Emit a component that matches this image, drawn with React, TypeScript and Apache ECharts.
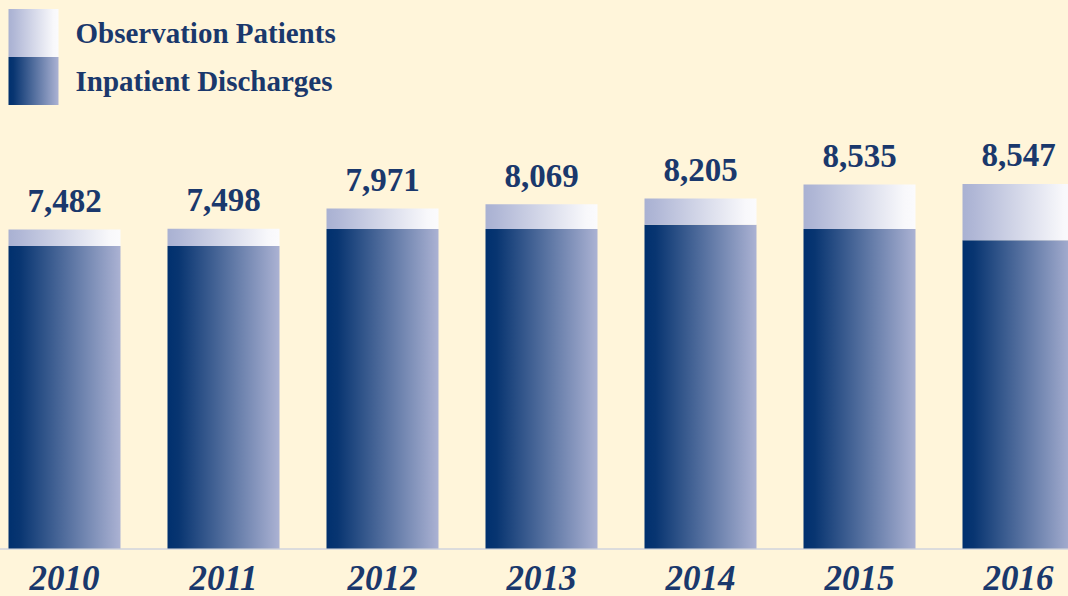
import { useEffect, useRef } from "react";
import * as echarts from "echarts";

const years = ["2010", "2011", "2012", "2013", "2014", "2015", "2016"];
const inpatient = [7090, 7090, 7490, 7490, 7590, 7490, 7230];
const observation = [392, 408, 481, 579, 615, 1045, 1317];
const totals = [7482, 7498, 7971, 8069, 8205, 8535, 8547];

const NAVY = "#1a386c";
const FONT = "'Liberation Serif', 'DejaVu Serif', serif";
const SHIFT = 15.5;

export default function App() {
  const ref = useRef<HTMLDivElement>(null);

  useEffect(() => {
    if (!ref.current) return;
    const chart = echarts.init(ref.current, null, { renderer: "svg" });
    const inpGrad = new echarts.graphic.LinearGradient(0, 0, 1, 0, [
      { offset: 0, color: "#00306e" },
      { offset: 0.1, color: "#083571" },
      { offset: 1, color: "#abb2d3" },
    ]);
    const obsGrad = new echarts.graphic.LinearGradient(0, 0, 1, 0, [
      { offset: 0, color: "#a9b1d2" },
      { offset: 0.1, color: "#b0b7d6" },
      { offset: 0.9, color: "#f8f8fb" },
      { offset: 1, color: "#fbfbfd" },
    ]);
    chart.setOption({
      animation: false,
      backgroundColor: "#fff5da",
      legend: {
        orient: "vertical",
        left: 8 + SHIFT,
        top: 9,
        padding: 0,
        itemWidth: 50,
        itemHeight: 48,
        itemGap: 0,
        icon: "rect",
        selectedMode: false,
        data: ["Observation Patients", "Inpatient Discharges"],
        textStyle: {
          color: NAVY,
          fontSize: 29,
          fontWeight: "bold",
          fontFamily: FONT,
          padding: [9, 0, 0, 12],
        },
      },
      grid: { left: 0, right: 0, top: 122, bottom: 47.5 },
      xAxis: {
        type: "category",
        data: years,
        axisLine: { show: true, lineStyle: { color: "#dcdcdc", width: 2 } },
        axisTick: { show: false },
        axisLabel: {
          color: NAVY,
          fontSize: 35,
          fontWeight: "bold",
          fontStyle: "italic",
          fontFamily: FONT,
          margin: 12,
        },
      },
      yAxis: {
        type: "value",
        min: 0,
        max: 10000,
        show: false,
        splitLine: { show: false },
      },
      series: [
        {
          name: "Inpatient Discharges",
          type: "bar",
          stack: "total",
          barWidth: 112,
          data: inpatient,
          itemStyle: { color: inpGrad },
        },
        {
          name: "Observation Patients",
          type: "bar",
          stack: "total",
          barWidth: 112,
          data: observation,
          itemStyle: { color: obsGrad },
          label: {
            show: true,
            position: "top",
            distance: 12,
            color: NAVY,
            fontSize: 33,
            fontWeight: "bold",
            fontFamily: FONT,
            formatter: (p: any) => totals[p.dataIndex].toLocaleString("en-US"),
          },
        },
      ],
    });
    return () => chart.dispose();
  }, []);

  return (
    <div
      ref={ref}
      style={{ position: "fixed", left: -SHIFT, top: 0, width: 1068 + 2 * SHIFT + 14, height: 596 }}
    />
  );
}
